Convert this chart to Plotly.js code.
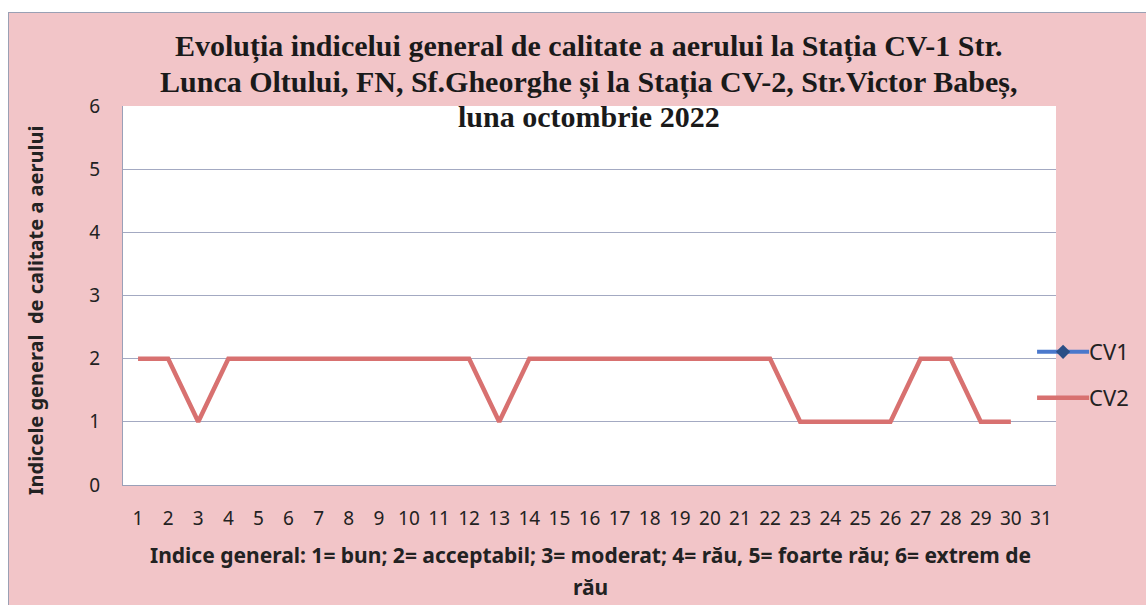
<!DOCTYPE html>
<html>
<head>
<meta charset="utf-8">
<script src="https://cdn.plot.ly/plotly-3.0.1.min.js"></script>
<style>
  html, body { margin: 0; padding: 0; background: #ffffff; width: 1146px; height: 605px; overflow: hidden; }
  #frame { position: absolute; left: 8px; top: 12px; width: 1138px; height: 593px;
           border-left: 1px solid #9aa0b4; border-top: 1px solid #9aa0b4; background: #f2c5c8; box-sizing: border-box; }
  #chart { position: absolute; left: 0; top: 0; width: 1137px; height: 592px; }
</style>
</head>
<body>
<div id="frame"><div id="chart"></div></div>
<script>
// Days of October 2022
const days = [1,2,3,4,5,6,7,8,9,10,11,12,13,14,15,16,17,18,19,20,21,22,23,24,25,26,27,28,29,30,31];
const dayLabels = days.map(String);
// CV1: no data shown in the chart
const cv1 = [null,null,null,null,null,null,null,null,null,null,null,null,null,null,null,null,null,null,null,null,null,null,null,null,null,null,null,null,null,null,null];
// CV2 general air quality index
const cv2 = [2,2,1,2,2,2,2,2,2,2,2,2,1,2,2,2,2,2,2,2,2,2,1,1,1,1,2,2,1,1,null];
const yTicks = [0,1,2,3,4,5,6];
const titleLines = [
  "Evoluția indicelui general de calitate a aerului la Stația CV-1 Str.",
  "Lunca Oltului, FN, Sf.Gheorghe și la Stația CV-2, Str.Victor Babeș,",
  "luna octombrie 2022"
];
const yTitle = "Indicele general  de calitate a aerului";
const xTitleLines = [
  "Indice general: 1= bun; 2= acceptabil; 3= moderat; 4= rău, 5= foarte rău; 6= extrem de",
  "rău"
];

const traces = [
  { x: days, y: cv1, name: "CV1", type: "scatter", mode: "lines+markers",
    line: { color: "#4a78cc", width: 4 },
    marker: { symbol: "diamond", size: 11, color: "#2b4f86" },
    legend: "legend", connectgaps: false },
  { x: days, y: cv2, name: "CV2", type: "scatter", mode: "lines",
    line: { color: "#d87170", width: 4.5 },
    legend: "legend2", connectgaps: false }
];

const W = 1137, H = 592;
const m = { l: 114, r: 87, t: 93, b: 120 };
const pw = W - m.l - m.r, ph = H - m.t - m.b;
function px2x(p) { return (p - 9 - m.l) / pw; }
function py2y(p) { return 1 - (p - 13 - m.t) / ph; }

const annotations = titleLines.map((t, i) => ({
  text: "<b>" + t + "</b>", xref: "paper", yref: "paper",
  x: px2x(590), y: py2y([47, 82, 116][i]), xanchor: "center", yanchor: "middle",
  showarrow: false, font: { family: "Liberation Serif, Times New Roman, serif", size: 30, color: "#1a1a1a" }
}));
xTitleLines.forEach((t, i) => annotations.push({
  text: "<b>" + t + "</b>", xref: "paper", yref: "paper",
  x: px2x(592), y: py2y([555, 587][i]), xanchor: "center", yanchor: "middle",
  showarrow: false, font: { family: "Noto Sans, sans-serif", size: 21, color: "#222" }
}));
annotations.push({
  text: "<b>" + yTitle + "</b>", xref: "paper", yref: "paper", textangle: -90,
  x: px2x(35), y: py2y(310), xanchor: "center", yanchor: "middle",
  showarrow: false, font: { family: "Noto Sans, sans-serif", size: 20, color: "#222" }
});

const legendFont = { family: "Noto Sans, sans-serif", size: 22, color: "#222" };
const layout = {
  width: W, height: H,
  margin: m,
  paper_bgcolor: "rgba(0,0,0,0)",
  plot_bgcolor: "#ffffff",
  showlegend: true,
  xaxis: {
    type: "linear", range: [0.5, 31.5], tickvals: days, ticktext: dayLabels,
    showgrid: false, zeroline: false, showline: true, linecolor: "#9aa0b8", linewidth: 1,
    ticks: "", ticklabelstandoff: 16,
    tickfont: { family: "Noto Sans, sans-serif", size: 19, color: "#222" },
    fixedrange: true
  },
  yaxis: {
    range: [0, 6], tickvals: yTicks, ticktext: yTicks.map(String),
    showgrid: true, gridcolor: "#a3a9c2", gridwidth: 1, zeroline: false,
    showline: true, linecolor: "#9aa0b8", linewidth: 1,
    ticks: "", ticklabelstandoff: 18,
    tickfont: { family: "Noto Sans, sans-serif", size: 19, color: "#222" },
    fixedrange: true
  },
  legend: { x: px2x(1036), y: py2y(352), xanchor: "left", yanchor: "middle", itemwidth: 46,
            bgcolor: "rgba(0,0,0,0)", font: legendFont },
  legend2: { x: px2x(1036), y: py2y(398), xanchor: "left", yanchor: "middle", itemwidth: 46,
             bgcolor: "rgba(0,0,0,0)", font: legendFont },
  annotations: annotations
};

function stretchLegend() {
  document.querySelectorAll("g.traces path").forEach(p => {
    const d = p.getAttribute("d") || "";
    if (/^M\s*5[,\s]+0\s*h/i.test(d) || (p.closest("g.legendlines") && !/^M4,0h52$/.test(d))) {
      p.setAttribute("d", "M4,0h52");
    }
  });
  document.querySelectorAll("g.legendpoints path.scatterpts").forEach(p => p.setAttribute("transform", "translate(30,0)"));
}
const gd = document.getElementById("chart");
Plotly.newPlot(gd, traces, layout, { displayModeBar: false, staticPlot: true }).then(() => {
  stretchLegend();
  gd.on("plotly_afterplot", stretchLegend);
  setTimeout(stretchLegend, 0);
  setTimeout(stretchLegend, 200);
});
</script>
</body>
</html>
